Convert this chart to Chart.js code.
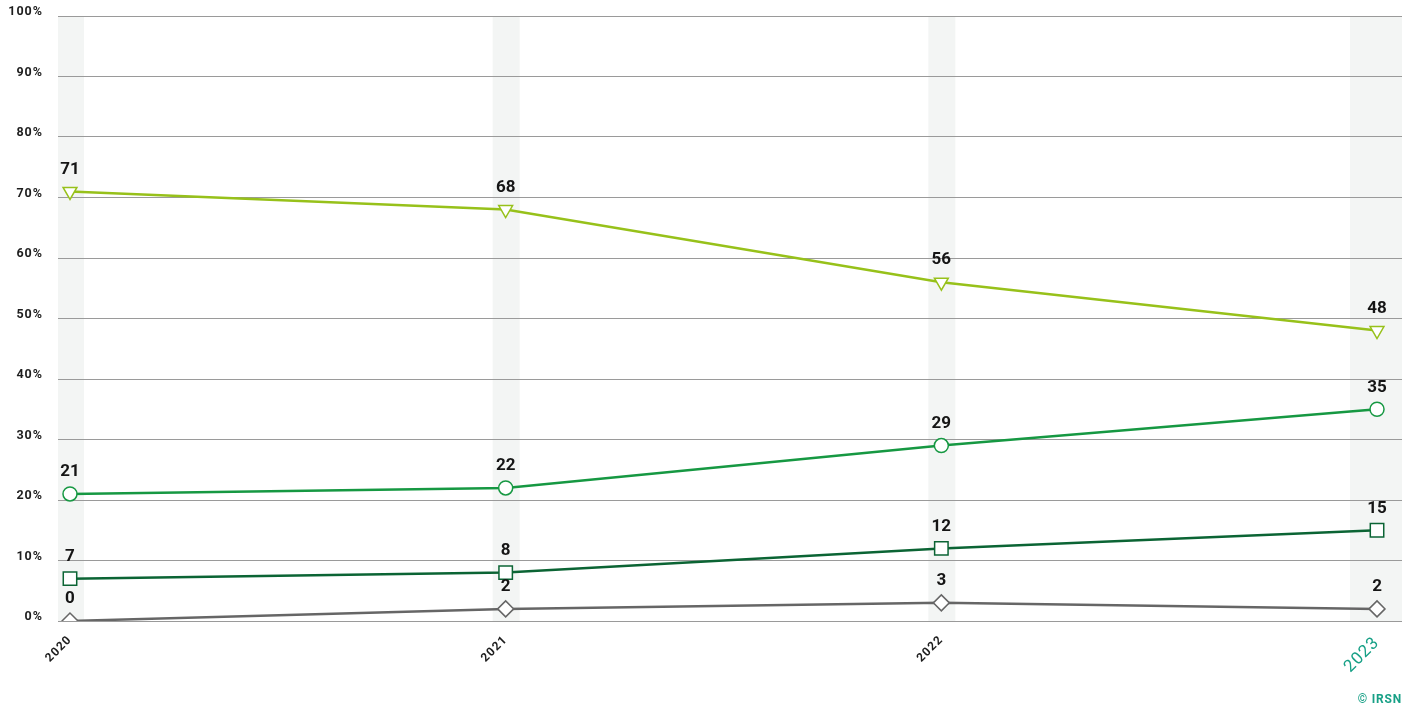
<!DOCTYPE html>
<html>
<head>
<meta charset="utf-8">
<script src="https://cdn.jsdelivr.net/npm/chart.js@4"></script>
<style>
    html, body { margin: 0; padding: 0; background: #fff; }
    #wrap { position: relative; width: 1413px; height: 709px; }
    #copy {
        position: absolute; right: 11px; bottom: 3px;
        font: 700 12px Roboto, sans-serif; color: #17a086; letter-spacing: 0.8px;
    }
</style>
</head>
<body>
<div id="wrap">
    <canvas id="chart" width="1413" height="709"></canvas>
    <div id="copy">© IRSN</div>
</div>
<script>
const years = [2020, 2021, 2022, 2023];
const triangleSeries = [71, 68, 56, 48];
const circleSeries = [21, 22, 29, 35];
const squareSeries = [7, 8, 12, 15];
const diamondSeries = [0, 2, 3, 2];
const yTicks = [0, 10, 20, 30, 40, 50, 60, 70, 80, 90, 100];

const highlightYear = 2023;

function points(values) {
    return years.map((yr, i) => ({ x: yr, y: values[i] }));
}

function makeSet(values, color, style, radius, rotation) {
    return {
        data: points(values),
        borderColor: color,
        borderWidth: 2.5,
        pointStyle: style,
        pointRadius: radius,
        pointHoverRadius: radius,
        pointRotation: rotation || 0,
        pointBackgroundColor: "#ffffff",
        pointBorderColor: color,
        pointBorderWidth: 1.5,
        tension: 0,
        fill: false
    };
}

// light vertical bands behind each year, plus tick letter spacing
const bandPlugin = {
    id: "bands",
    beforeDraw(chart) {
        const { ctx, chartArea, scales } = chart;
        ctx.save();
        ctx.fillStyle = "#f3f5f4";
        years.forEach(yr => {
            const px = scales.x.getPixelForValue(yr);
            let left = px - 13, right = px + 14;
            if (yr === highlightYear) { left = px - 27; right = chartArea.right; }
            left = Math.max(left, chartArea.left);
            ctx.fillRect(left, chartArea.top, right - left, chartArea.bottom - chartArea.top);
        });
        ctx.restore();
        ctx.letterSpacing = "1px";
    },
    afterDraw(chart) {
        chart.ctx.letterSpacing = "0px";
    }
};

// value labels above each point
const valueLabels = {
    id: "valueLabels",
    afterDatasetsDraw(chart) {
        const { ctx } = chart;
        ctx.save();
        ctx.letterSpacing = "0px";
        ctx.font = "700 17px Roboto, sans-serif";
        ctx.fillStyle = "#151515";
        ctx.textAlign = "center";
        ctx.textBaseline = "middle";
        chart.data.datasets.forEach((ds, di) => {
            chart.getDatasetMeta(di).data.forEach((pt, i) => {
                ctx.fillText(String(ds.data[i].y), pt.x, pt.y - 22);
            });
        });
        ctx.restore();
    }
};

const minX = 2020 - 12 / 436;
const maxX = 2023 + 25 / 436;

new Chart(document.getElementById("chart"), {
    type: "line",
    data: {
        datasets: [
            makeSet(triangleSeries, "#97c11a", "triangle", 8, 180),
            makeSet(circleSeries, "#169842", "circle", 7),
            makeSet(squareSeries, "#0b6434", "rect", 9.5),
            makeSet(diamondSeries, "#666666", "rectRot", 8)
        ]
    },
    options: {
        responsive: false,
        animation: false,
        layout: { padding: { top: 16, right: 10, left: 0, bottom: 0 } },
        plugins: {
            legend: { display: false },
            tooltip: { enabled: false }
        },
        scales: {
            x: {
                type: "linear",
                min: minX,
                max: maxX,
                afterBuildTicks: axis => { axis.ticks = years.map(v => ({ value: v })); },
                afterFit: axis => {
                    axis.height = 88;
                    axis.paddingLeft = 0;
                    axis.paddingRight = 0;
                },
                grid: { display: false },
                border: { display: false },
                ticks: {
                    minRotation: 45,
                    maxRotation: 45,
                    padding: 4,
                    callback: v => String(v),
                    color: c => c.tick && c.tick.value === highlightYear ? "#17a086" : "#1e1e1e",
                    font: c => c.tick && c.tick.value === highlightYear
                        ? { family: "Roboto", size: 17, weight: "400" }
                        : { family: "Roboto", size: 12, weight: "700" }
                }
            },
            y: {
                min: 0,
                max: 100,
                afterBuildTicks: axis => { axis.ticks = yTicks.map(v => ({ value: v })); },
                afterFit: axis => {
                    axis.width = 58;
                    axis.paddingTop = 0;
                    axis.paddingBottom = 0;
                },
                grid: { color: "#9a9a9a", lineWidth: 1, drawTicks: false },
                border: { display: false },
                ticks: {
                    padding: 15,
                    labelOffset: -4,
                    color: "#1e1e1e",
                    font: { family: "Roboto", size: 12.5, weight: "700" },
                    callback: v => v + "%"
                }
            }
        }
    },
    plugins: [bandPlugin, valueLabels]
});
</script>
</body>
</html>
